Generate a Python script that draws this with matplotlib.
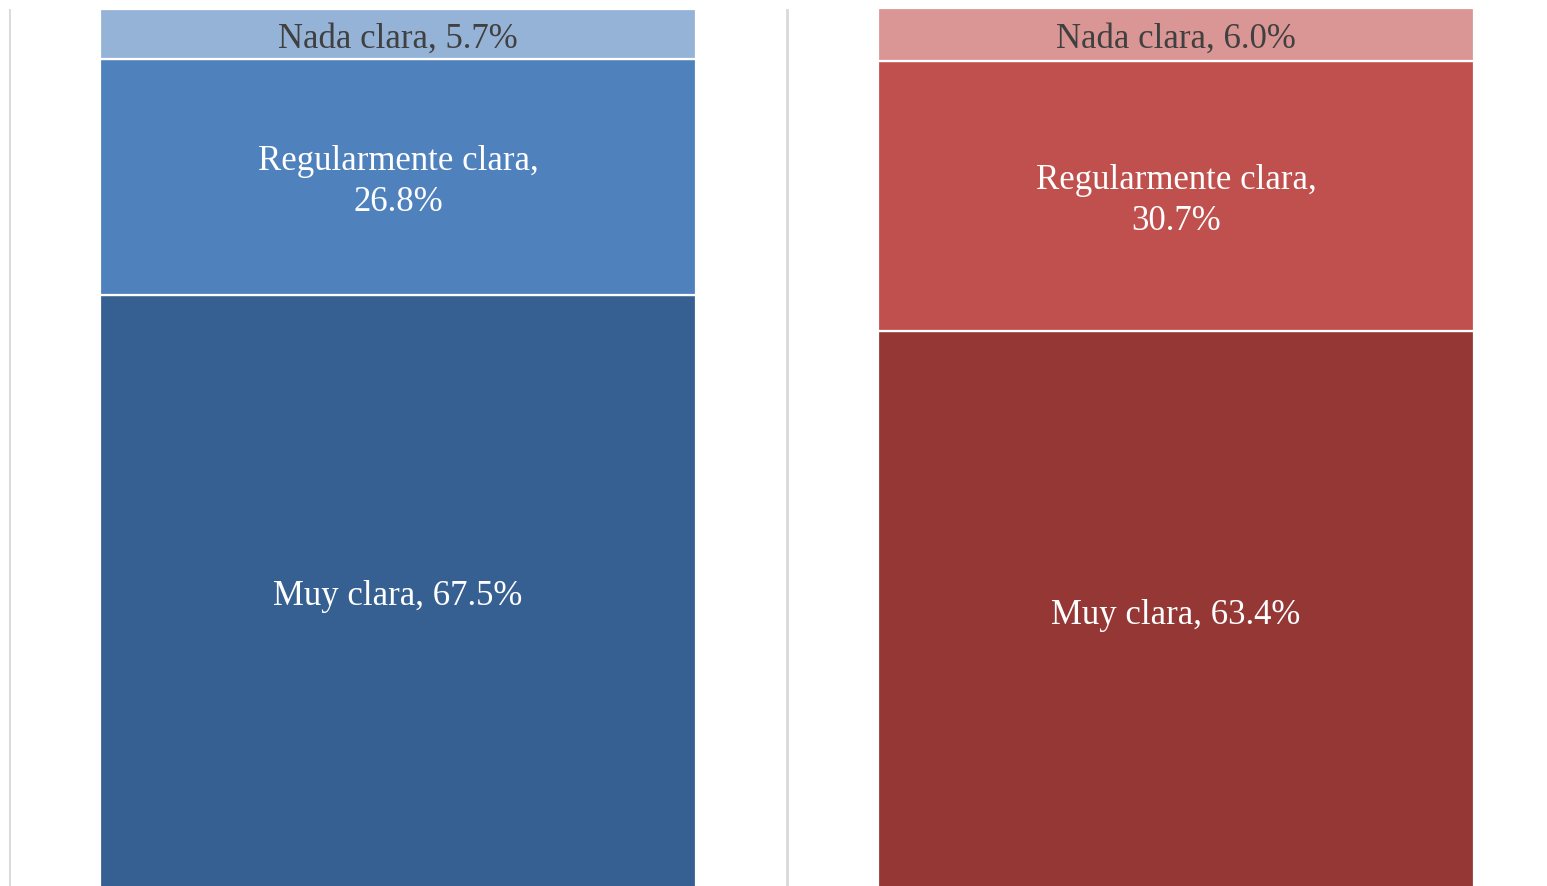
import matplotlib.pyplot as plt
import matplotlib.transforms as mtransforms
import numpy as np

plt.rcParams["font.family"] = ["Liberation Serif", "DejaVu Serif"]

# ---------------------------------------------------------------------------
# Data
# ---------------------------------------------------------------------------
groups = ["Grupo A", "Grupo B"]
categories = ["Muy clara", "Regularmente clara", "Nada clara"]
labels = ["Muy clara, {v:.1f}%", "Regularmente clara,\n{v:.1f}%", "Nada clara, {v:.1f}%"]
values = {
    "Muy clara": [67.5, 63.4],
    "Regularmente clara": [26.8, 30.7],
    "Nada clara": [5.7, 6.0],
}
colors = [
    ["#366092", "#4f81bd", "#95b3d7"],  # blue group
    ["#953735", "#c0504d", "#da9694"],  # red group
]
text_colors = ["white", "white", "#404040"]

# ---------------------------------------------------------------------------
# Plot
# ---------------------------------------------------------------------------
W, H = 1547, 887
fig = plt.figure(figsize=(W / 100, H / 100), dpi=100)
ax = fig.add_axes([9 / W, -3 / H, 1556 / W, 880 / H])

# nudge labels slightly down, as in the reference
shift = mtransforms.offset_copy(ax.transData, fig=fig, x=0, y=-4, units="dots")

x = np.arange(len(groups))
bottom = np.zeros(len(groups))
for ci, cat in enumerate(categories):
    vals = np.array(values[cat])
    for gi in range(len(groups)):
        ax.bar(x[gi], vals[gi], width=0.766, bottom=bottom[gi],
               color=colors[gi][ci], edgecolor="white", linewidth=1.6, zorder=2)
        ax.text(x[gi], bottom[gi] + vals[gi] / 2, labels[ci].format(v=vals[gi]),
                ha="center", va="center", fontsize=25, color=text_colors[ci],
                linespacing=1.3, transform=shift, zorder=3)
    bottom += vals

for xv in [-0.5, 0.5, 1.5]:
    ax.axvline(xv, color="#d9d9d9", linewidth=2, zorder=1)

ax.set_xlim(-0.5, 1.5)
ax.set_ylim(0, 100)
ax.axis("off")

fig.savefig("out.png", dpi=100)
plt.close(fig)
